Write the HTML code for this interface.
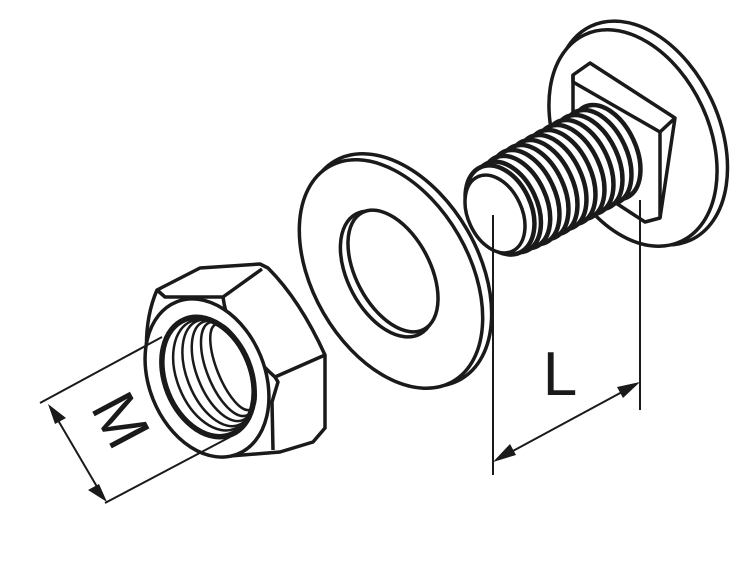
<!DOCTYPE html>
<html><head><style>
html,body{margin:0;padding:0;background:#fff;}
svg{display:block}
</style></head><body>
<svg width="746" height="581" viewBox="0 0 746 581" xmlns="http://www.w3.org/2000/svg">
<g fill="#fff" stroke="#1a1a1a" stroke-width="3.5" stroke-linejoin="round">
<!-- bolt head disc -->
<ellipse cx="641" cy="133" rx="78" ry="118" transform="rotate(-25 641 133)"/>
<ellipse cx="633" cy="138" rx="76" ry="114" transform="rotate(-25 633 138)"/>
<!-- square neck -->
<polygon points="573,75 590,63 675,118 660,218 645,222 573,175"/>
<polyline points="573,75 573,82 660,132 675,118" fill="none"/>
<line x1="660" y1="132" x2="660" y2="218"/>
<!-- threads -->
<g stroke-width="4.5">
<ellipse cx="606" cy="152" rx="30" ry="50" transform="rotate(-25 606 152)"/>
<ellipse cx="597" cy="157" rx="30" ry="50" transform="rotate(-25 597 157)"/>
<ellipse cx="588" cy="162" rx="30" ry="50" transform="rotate(-25 588 162)"/>
<ellipse cx="579" cy="167" rx="30" ry="50" transform="rotate(-25 579 167)"/>
<ellipse cx="570" cy="172" rx="30" ry="50" transform="rotate(-25 570 172)"/>
<ellipse cx="561" cy="177" rx="30" ry="50" transform="rotate(-25 561 177)"/>
<ellipse cx="552" cy="182" rx="30" ry="50" transform="rotate(-25 552 182)"/>
<ellipse cx="543" cy="187" rx="30" ry="50" transform="rotate(-25 543 187)"/>
<ellipse cx="534" cy="192" rx="30" ry="50" transform="rotate(-25 534 192)"/>
<ellipse cx="525" cy="197" rx="30" ry="50" transform="rotate(-25 525 197)"/>
<ellipse cx="516" cy="202" rx="30" ry="49" transform="rotate(-25 516 202)"/>
<ellipse cx="507" cy="207" rx="30" ry="48" transform="rotate(-25 507 207)"/>
<ellipse cx="500" cy="210" rx="31" ry="47" transform="rotate(-25 500 210)"/>
</g>
<ellipse cx="495" cy="214" rx="27" ry="41" transform="rotate(-25 495 214)"/>
<!-- washer -->
<ellipse cx="398" cy="270" rx="80" ry="126" transform="rotate(-30 398 270)"/>
<ellipse cx="391" cy="274" rx="78" ry="124" transform="rotate(-30 391 274)"/>
<ellipse cx="388" cy="274" rx="40" ry="68" transform="rotate(-28 388 274)"/>
<ellipse cx="393" cy="271" rx="37" ry="66" transform="rotate(-28 393 271)"/>
<!-- nut -->
<path d="M157,290 L200,268 L260,264 L268,268 Q300,300 325,355 L325,428 L313,442 L280,452 L230,456 Q165,440 147,360 Q144,320 157,290 Z"/>
<polyline points="157,290 165,297 223,297 262,269" fill="none"/>
<path d="M223,297 Q225,312 230,322 Q250,355 275,377 L325,355" fill="none"/>
<polyline points="275,377 278,382 272,402 273,450" fill="none"/>
<ellipse cx="207" cy="378" rx="58" ry="82" transform="rotate(-22 207 378)"/>
<ellipse cx="208" cy="377" rx="43" ry="62" transform="rotate(-22 208 377)" stroke-width="5.5"/>
<g fill="none" stroke-width="2.5">
<ellipse cx="213" cy="375" rx="36" ry="58" transform="rotate(-22 213 375)"/>
<ellipse cx="218" cy="373" rx="31" ry="56" transform="rotate(-22 218 373)"/>
<ellipse cx="223" cy="371" rx="26" ry="53" transform="rotate(-22 223 371)"/>
<ellipse cx="228" cy="369" rx="21" ry="50" transform="rotate(-22 228 369)"/>
<ellipse cx="233" cy="367" rx="16" ry="46" transform="rotate(-22 233 367)"/>
</g>
</g>
<!-- dimension lines -->
<g stroke="#1a1a1a" stroke-width="2" fill="none">
<line x1="493" y1="215" x2="493" y2="475"/>
<line x1="640" y1="200" x2="640" y2="410"/>
<line x1="498" y1="459" x2="635" y2="385"/>
<line x1="40" y1="403" x2="162" y2="337"/>
<line x1="105" y1="503" x2="230" y2="437"/>
<line x1="52" y1="410" x2="103" y2="497"/>
</g>
<g fill="#1a1a1a">
<polygon points="493,462 510,444 516,455"/>
<polygon points="640,382 617,387 623,398"/>
<polygon points="48,404 66,418 55,424"/>
<polygon points="107,502 88,490 99,484"/>
</g>
<text x="560" y="395" font-family="Liberation Sans, sans-serif" font-size="62" text-anchor="middle" fill="#1a1a1a">L</text>
<text x="0" y="0" font-family="Liberation Sans, sans-serif" font-size="62" text-anchor="middle" fill="#1a1a1a" transform="translate(102,430) rotate(62)">M</text>
</svg>
</body></html>
